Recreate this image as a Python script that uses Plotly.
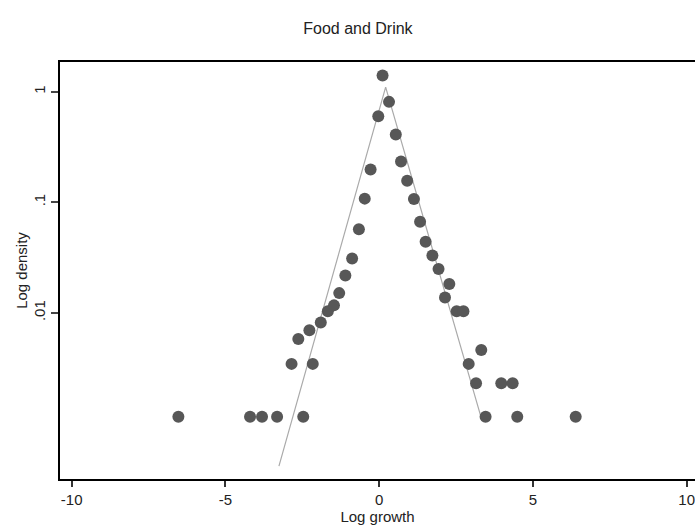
import plotly.graph_objects as go

# Observed binned log densities (x = log growth bin, y = density)
growth = [-6.53, -4.20, -3.81, -3.32, -2.85, -2.63, -2.47, -2.27, -2.16, -1.90,
          -1.67, -1.47, -1.30, -1.10, -0.88, -0.66, -0.47, -0.28, -0.03, 0.11,
          0.32, 0.54, 0.71, 0.91, 1.13, 1.33, 1.51, 1.73, 1.93, 2.14,
          2.28, 2.52, 2.74, 2.91, 3.15, 3.32, 3.46, 3.97, 4.34, 4.49, 6.39]
density = [0.00115, 0.00115, 0.00115, 0.00115, 0.00346, 0.00582, 0.00115, 0.00697, 0.00346, 0.00817,
           0.01035, 0.0117, 0.0151, 0.0218, 0.031, 0.057, 0.108, 0.198, 0.60, 1.40,
           0.81, 0.41, 0.234, 0.157, 0.107, 0.0667, 0.044, 0.033, 0.025, 0.0138,
           0.0183, 0.01035, 0.01035, 0.00346, 0.00231, 0.00462, 0.00115, 0.00231, 0.00231, 0.00115, 0.00115]

# Fitted Laplace density (straight on log scale)
fit_x = [-3.26, 0.21, 3.30]
fit_y = [0.000412, 1.10, 0.00117]

x_ticks = [-10, -5, 0, 5, 10]
x_tick_text = ["-10", "-5", "0", "5", "10"]
y_ticks = [1, 0.1, 0.01]
y_tick_text = ["1", ".1", ".01"]

fig = go.Figure()
fig.add_trace(go.Scatter(x=fit_x, y=fit_y, mode="lines",
                         line=dict(color="#aaaaaa", width=1.2), showlegend=False))
fig.add_trace(go.Scatter(x=growth, y=density, mode="markers",
                         marker=dict(color="#575757", size=12, line=dict(width=0)),
                         showlegend=False))

font_family = "Liberation Sans, Arial, sans-serif"
fig.update_layout(
    width=695, height=527,
    margin=dict(l=60, r=0, t=62, b=48, autoexpand=False),
    paper_bgcolor="white", plot_bgcolor="white",
    font=dict(family=font_family, size=13, color="#222222"),
    title=dict(text="Food and Drink", x=0.515, xanchor="center",
               yref="container", y=1 - 28 / 527, yanchor="middle",
               font=dict(size=16, color="#222222")),
    xaxis=dict(range=[-10.38, 10.27], tickvals=x_ticks, ticktext=x_tick_text,
               automargin=False, ticklabeloverflow="allow",
               showgrid=False, zeroline=False, showline=True, linecolor="black", linewidth=2,
               mirror=True, ticks="outside", ticklen=6, tickwidth=2, tickcolor="#333333",
               tickfont=dict(size=15),
               title=dict(text="Log growth", standoff=0, font=dict(size=15))),
    yaxis=dict(type="log", range=[-3.502, 0.269], tickvals=y_ticks, ticktext=y_tick_text,
               automargin=False,
               showgrid=False, zeroline=False, showline=True, linecolor="black", linewidth=2,
               ticks="outside", ticklen=7, tickwidth=2, tickcolor="#444444",
               tickangle=-90, tickfont=dict(size=15),
               title=dict(text="Log density", standoff=0, font=dict(size=15))),
)

fig.write_html("out.html",
               config={"displayModeBar": False},
               post_script="document.body.style.margin='0';document.body.style.overflow='hidden';"
                           "document.documentElement.style.overflow='hidden';")
